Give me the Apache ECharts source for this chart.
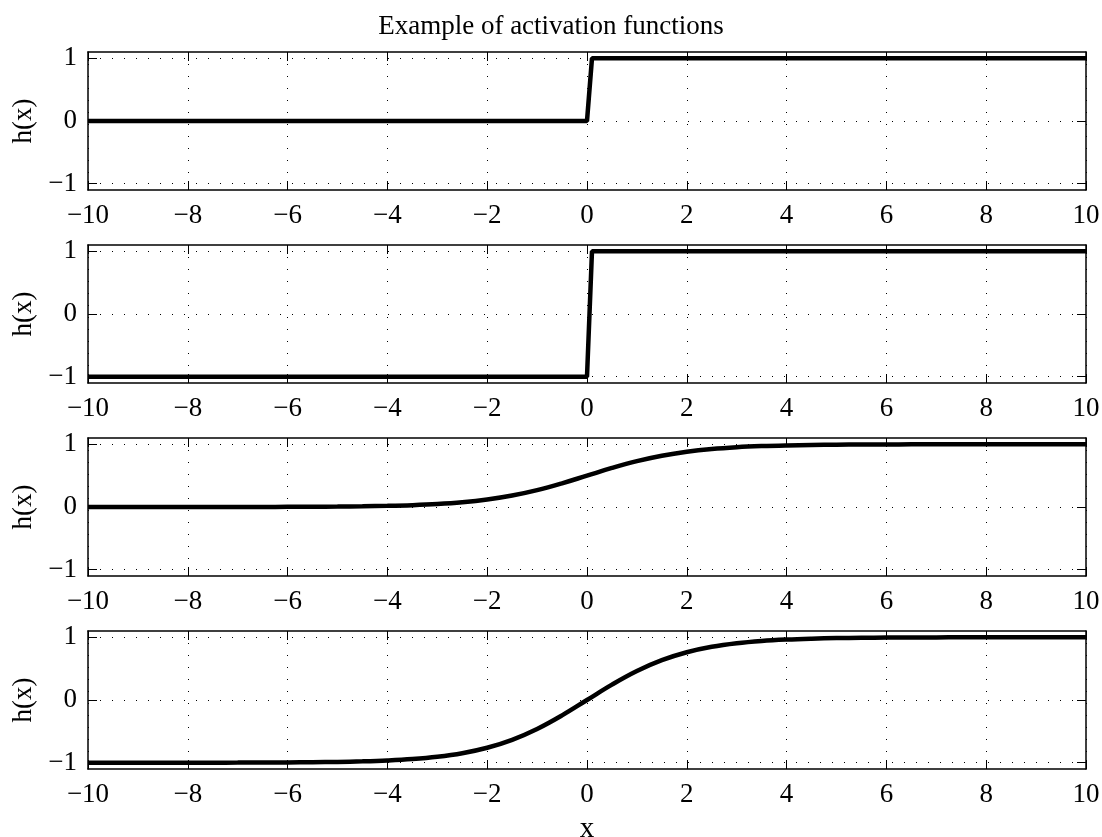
<!DOCTYPE html>
<html>
<head>
<meta charset="utf-8">
<script src="https://cdn.jsdelivr.net/npm/echarts@6/dist/echarts.min.js"></script>
<style>
    html, body { margin: 0; padding: 0; background: #fff; }
    #main { width: 1102px; height: 837px; }
</style>
</head>
<body>
<div id="main"></div>
<script type="text/javascript">
// values
var yTicks = [-1, 0, 1];

var xStep = [-10, 0, 0.1, 10];
var yStep = [0, 0, 1, 1];
var ySign = [-1, -1, 1, 1];

var xCurve = [-10, -9.5, -9, -8.5, -8, -7.5, -7, -6.5, -6, -5.5, -5, -4.5, -4, -3.5, -3, -2.5, -2, -1.5, -1, -0.5,
    0, 0.5, 1, 1.5, 2, 2.5, 3, 3.5, 4, 4.5, 5, 5.5, 6, 6.5, 7, 7.5, 8, 8.5, 9, 9.5, 10];
var ySigmoid = [0.0000, 0.0001, 0.0001, 0.0002, 0.0003, 0.0006, 0.0009, 0.0015, 0.0025, 0.0041, 0.0067, 0.0110,
    0.0180, 0.0293, 0.0474, 0.0759, 0.1192, 0.1824, 0.2689, 0.3775, 0.5000, 0.6225, 0.7311, 0.8176, 0.8808,
    0.9241, 0.9526, 0.9707, 0.9820, 0.9890, 0.9933, 0.9959, 0.9975, 0.9985, 0.9991, 0.9994, 0.9997, 0.9998,
    0.9999, 0.9999, 1.0000];
var yTanh = [-0.9999, -0.9998, -0.9998, -0.9996, -0.9993, -0.9989, -0.9982, -0.9970, -0.9951, -0.9919, -0.9866,
    -0.9780, -0.9640, -0.9414, -0.9051, -0.8483, -0.7616, -0.6351, -0.4621, -0.2449, 0.0000, 0.2449, 0.4621,
    0.6351, 0.7616, 0.8483, 0.9051, 0.9414, 0.9640, 0.9780, 0.9866, 0.9919, 0.9951, 0.9970, 0.9982, 0.9989,
    0.9993, 0.9996, 0.9998, 0.9998, 0.9999];

var myChart = echarts.init(document.getElementById('main'));
var font = '"Liberation Serif", "Times New Roman", serif';
var tops = [52, 245, 438, 631];
var curves = [[xStep, yStep, false], [xStep, ySign, false], [xCurve, ySigmoid, 0.4], [xCurve, yTanh, 0.4]];

function minus(v) {
    return String(v).replace('-', '\u2212');
}

var axisLine = { onZero: false, lineStyle: { color: '#000', width: 1.5 } };
var tickStyle = { color: '#000', width: 1 };
var gridLine = { show: true, lineStyle: { color: '#000', width: 1, type: [1, 11] } };

var grids = [], xAxes = [], yAxes = [], series = [];
curves.forEach(function (c, i) {
    grids.push({ left: 88, width: 998, top: tops[i], height: 138, outerBoundsMode: 'none', containLabel: false });
    xAxes.push({
        gridIndex: i, type: 'value', min: -10, max: 10, interval: 2, position: 'bottom',
        axisLine: axisLine,
        axisTick: { inside: true, length: 9, lineStyle: tickStyle },
        axisLabel: { color: '#000', fontFamily: font, fontSize: 27, margin: 12, formatter: minus },
        splitLine: gridLine,
        name: i == 3 ? 'x' : '', nameLocation: 'middle', nameGap: 46,
        nameTextStyle: { color: '#000', fontFamily: font, fontSize: 29 }
    });
    xAxes.push({
        gridIndex: i, type: 'value', min: -10, max: 10, interval: 2, position: 'top',
        axisLine: axisLine,
        axisTick: { inside: true, length: 9, lineStyle: tickStyle },
        axisLabel: { show: false },
        splitLine: { show: false }
    });
    yAxes.push({
        gridIndex: i, type: 'value', min: -1.1, max: 1.1, position: 'left',
        axisLine: axisLine,
        axisTick: { inside: true, length: 9, lineStyle: tickStyle, customValues: yTicks },
        axisLabel: { color: '#000', fontFamily: font, fontSize: 27, margin: 11, formatter: minus, customValues: yTicks },
        splitLine: gridLine,
        name: 'h(x)', nameLocation: 'middle', nameRotate: 90, nameGap: 47,
        nameTextStyle: { color: '#000', fontFamily: font, fontSize: 27 }
    });
    yAxes.push({
        gridIndex: i, type: 'value', min: -1.1, max: 1.1, position: 'right',
        axisLine: axisLine,
        axisTick: { inside: true, length: 9, lineStyle: tickStyle, customValues: yTicks },
        axisLabel: { show: false },
        splitLine: { show: false }
    });
    series.push({
        type: 'line', xAxisIndex: 2 * i, yAxisIndex: 2 * i,
        data: c[0].map(function (x, k) { return [x, c[1][k]]; }),
        symbol: 'none', silent: true,
        smooth: c[2],
        lineStyle: { color: '#000', width: 4.5 }
    });
});

var option = {
    backgroundColor: '#fff',
    animation: false,
    title: {
        text: 'Example of activation functions',
        left: 'center', top: 8,
        textStyle: { color: '#000', fontFamily: font, fontSize: 27, fontWeight: 'normal' }
    },
    grid: grids,
    xAxis: xAxes,
    yAxis: yAxes,
    series: series
};
myChart.setOption(option);
</script>
</body>
</html>
